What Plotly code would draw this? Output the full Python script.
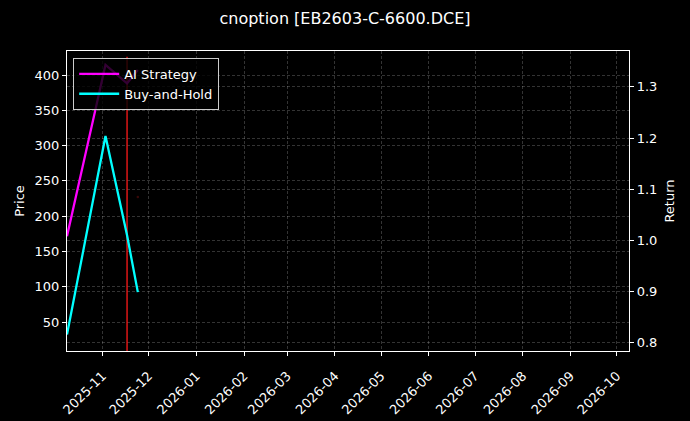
import plotly.graph_objects as go

# strategy curves (return, right axis)
dates = ["2025-10-09", "2025-11-03", "2025-11-17", "2025-11-24"]
ai_strategy = [1.008, 1.343, 1.307, 1.333]
buy_hold = [0.816, 1.204, 1.010, 0.899]

# price bars (left axis)
bar_dates = ["2025-11-17"]
bar_low = [0]
bar_high = [426]
dot_dates = ["2025-11-24"]
dot_price = [227]

x_range = ["2025-10-09", "2026-10-09"]
price_ticks = [50, 100, 150, 200, 250, 300, 350, 400]
return_ticks = [0.8, 0.9, 1.0, 1.1, 1.2, 1.3]

FONT = "DejaVu Sans"
GRID = "rgba(255,255,255,0.2)"

fig = go.Figure()

bx, by = [], []
for d, lo, hi in zip(bar_dates, bar_low, bar_high):
    bx += [d, d, None]
    by += [lo, hi, None]
fig.add_trace(go.Scatter(x=bx, y=by, mode="lines", line=dict(color="#ff1a1a", width=1.3),
                         showlegend=False, hoverinfo="skip"))
fig.add_trace(go.Scatter(x=dot_dates, y=dot_price, mode="markers",
                         marker=dict(color="#3a0808", size=2.5), showlegend=False))

fig.add_trace(go.Scatter(x=dates, y=ai_strategy, mode="lines", name="AI Strategy",
                         line=dict(color="#ff00ff", width=2.3), yaxis="y2"))
fig.add_trace(go.Scatter(x=dates, y=buy_hold, mode="lines", name="Buy-and-Hold",
                         line=dict(color="#00ffff", width=2.3), yaxis="y2"))

axis_common = dict(
    showline=True, linecolor="white", linewidth=1.2,
    ticks="outside", tickcolor="white", ticklen=4, tickwidth=1,
    tickfont=dict(color="white", size=13, family=FONT),
    showgrid=True, gridcolor=GRID, griddash="3px,2px", gridwidth=0.6,
    zeroline=False, automargin=False,
)

fig.update_layout(
    width=690, height=421,
    paper_bgcolor="black", plot_bgcolor="black",
    margin=dict(l=67, r=61, t=51, b=70),
    font=dict(family=FONT, color="white", size=13),
    title=dict(text="cnoption [EB2603-C-6600.DCE]", x=0.5, xanchor="center",
               y=0.957, yanchor="middle", font=dict(size=16, color="white", family=FONT)),
    xaxis=dict(axis_common, type="date", range=x_range, dtick="M1", tickformat="%Y-%m",
               tickangle=-45, mirror=True, ticklabelstandoff=7),
    yaxis=dict(axis_common, range=[9, 434], tickvals=price_ticks,
               title=dict(text="Price", font=dict(size=13, color="white", family=FONT), standoff=6)),
    yaxis2=dict(axis_common, overlaying="y", side="right", range=[0.784, 1.370],
                tickvals=return_ticks, tickformat=".1f",
                title=dict(text="Return", font=dict(size=13, color="white", family=FONT), standoff=8)),
    legend=dict(x=0.011, y=0.977, xanchor="left", yanchor="top",
                bgcolor="rgba(0,0,0,0.8)", bordercolor="#cccccc", borderwidth=1,
                tracegroupgap=0, itemwidth=40,
                font=dict(size=13, color="white", family=FONT)),
    showlegend=True,
)

# drop the page's default white body margin so the black figure fills the window
fig.write_html("out.html", config={"displayModeBar": False},
               post_script="document.body.style.margin='0';document.body.style.background='black';")
